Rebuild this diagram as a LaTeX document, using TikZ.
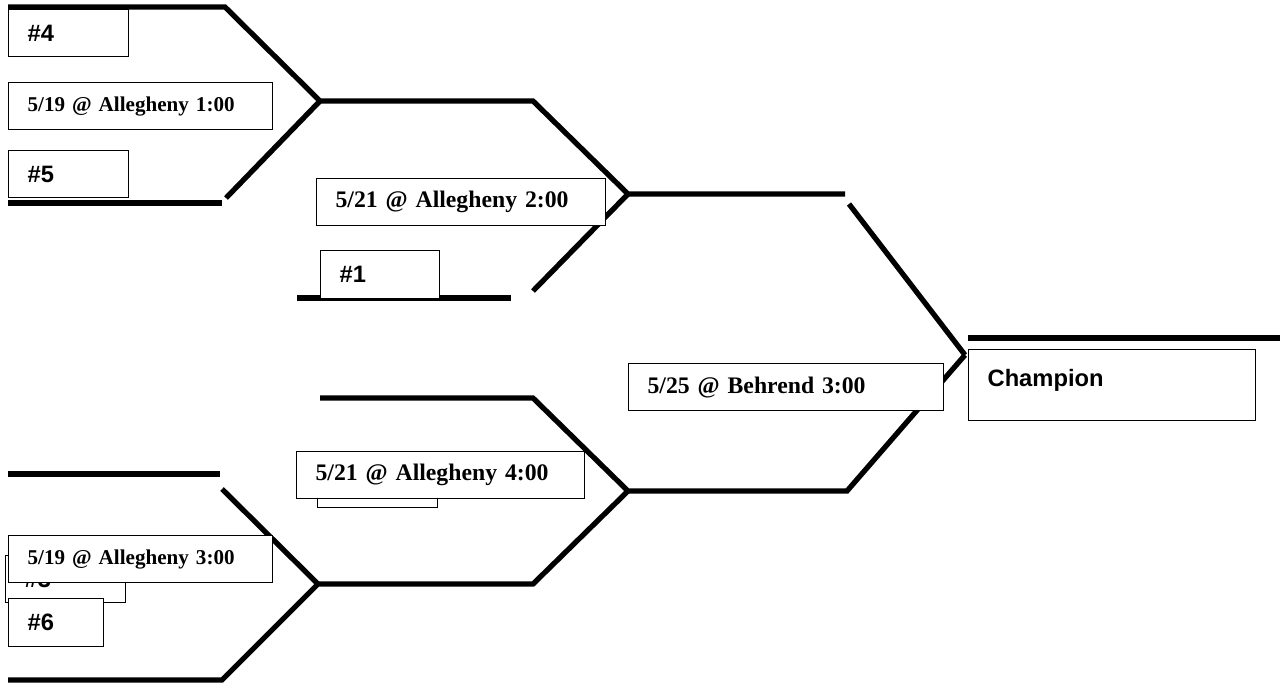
\documentclass[tikz,border=0pt]{standalone}
\usepackage{fontspec}
\setmainfont{Liberation Serif}
\newfontfamily\seedfont{Liberation Sans}
\begin{document}
\begin{tikzpicture}[x=0.02cm, y=-0.02cm]
        \tikzstyle{bar} = [draw, black, line width=3pt]
        \tikzstyle{box} = [draw, black, fill=white, line width=0.7pt, anchor=north west, align=left, inner xsep=0.38cm, inner ysep=0pt, minimum height=0.94cm]
        \tikzstyle{seed} = [box, font=\seedfont\bfseries\fontsize{13.5}{16}\selectfont]
        \tikzstyle{game} = [box, font=\bfseries\fontsize{13.5}{16}\selectfont]
        \tikzstyle{early} = [box, font=\bfseries\fontsize{12}{14}\selectfont]
        
        \useasboundingbox (0, 0) rectangle (1287, 683);
        
        \coordinate (top semi) at (320, 101);
        \coordinate (top final) at (628, 194);
        \coordinate (bottom final) at (628, 491);
        \coordinate (bottom semi) at (318, 584);
        \coordinate (title) at (965, 355);
        
        \path[bar] (8, 7) -- (225, 7) -- (top semi) -- (533, 101) -- (top final) -- (845, 194);
        \path[bar] (8, 203) -- (222, 203);
        \path[bar] (226, 198) -- (top semi);
        \path[bar] (297, 298) -- (511, 298);
        \path[bar] (533, 291) -- (top final);
        \path[bar] (849, 204) -- (title);
        \path[bar] (968, 338) -- (1280, 338);
        \path[bar] (320, 398) -- (533, 398) -- (bottom final) -- (847, 491) -- (title);
        \path[bar] (bottom final) -- (533, 584) -- (bottom semi) -- (222, 680) -- (8, 680);
        \path[bar] (8, 474) -- (220, 474);
        \path[bar] (222, 489) -- (bottom semi);
        
        \node[seed, text width=1.64cm, minimum width=2.4cm] (seed 4) at (8, 9) {\#4};
        \node[early, text width=4.52cm] (game 1) at (8, 82) {5/19 @ Allegheny 1:00};
        \node[seed, text width=1.64cm] (seed 5) at (8, 150) {\#5};
        \node[game, text width=5.02cm] (game 2) at (316, 178) {5/21 @ Allegheny 2:00};
        \node[seed, text width=1.62cm, minimum height=0.96cm] (seed 1) at (320, 250) {\#1};
        \node[game, text width=5.54cm] (game 5) at (628, 363) {5/25 @ Behrend 3:00};
        \node[seed, text width=4.98cm, minimum height=1.42cm, text height=21pt, text depth=19pt] (champion) at (968, 349) {Champion};
        \node[seed, text width=1.64cm] (seed 2) at (317, 460) {};
        \node[game, text width=5.0cm] (game 4) at (296, 451) {5/21 @ Allegheny 4:00};
        \node[seed, text width=1.64cm] (seed 3) at (5, 555) {\#3};
        \node[early, text width=4.52cm] (game 3) at (8, 535) {5/19 @ Allegheny 3:00};
        \node[seed, text width=1.14cm, minimum height=0.96cm] (seed 6) at (8, 598) {\#6};
    \end{tikzpicture}
\end{document}
